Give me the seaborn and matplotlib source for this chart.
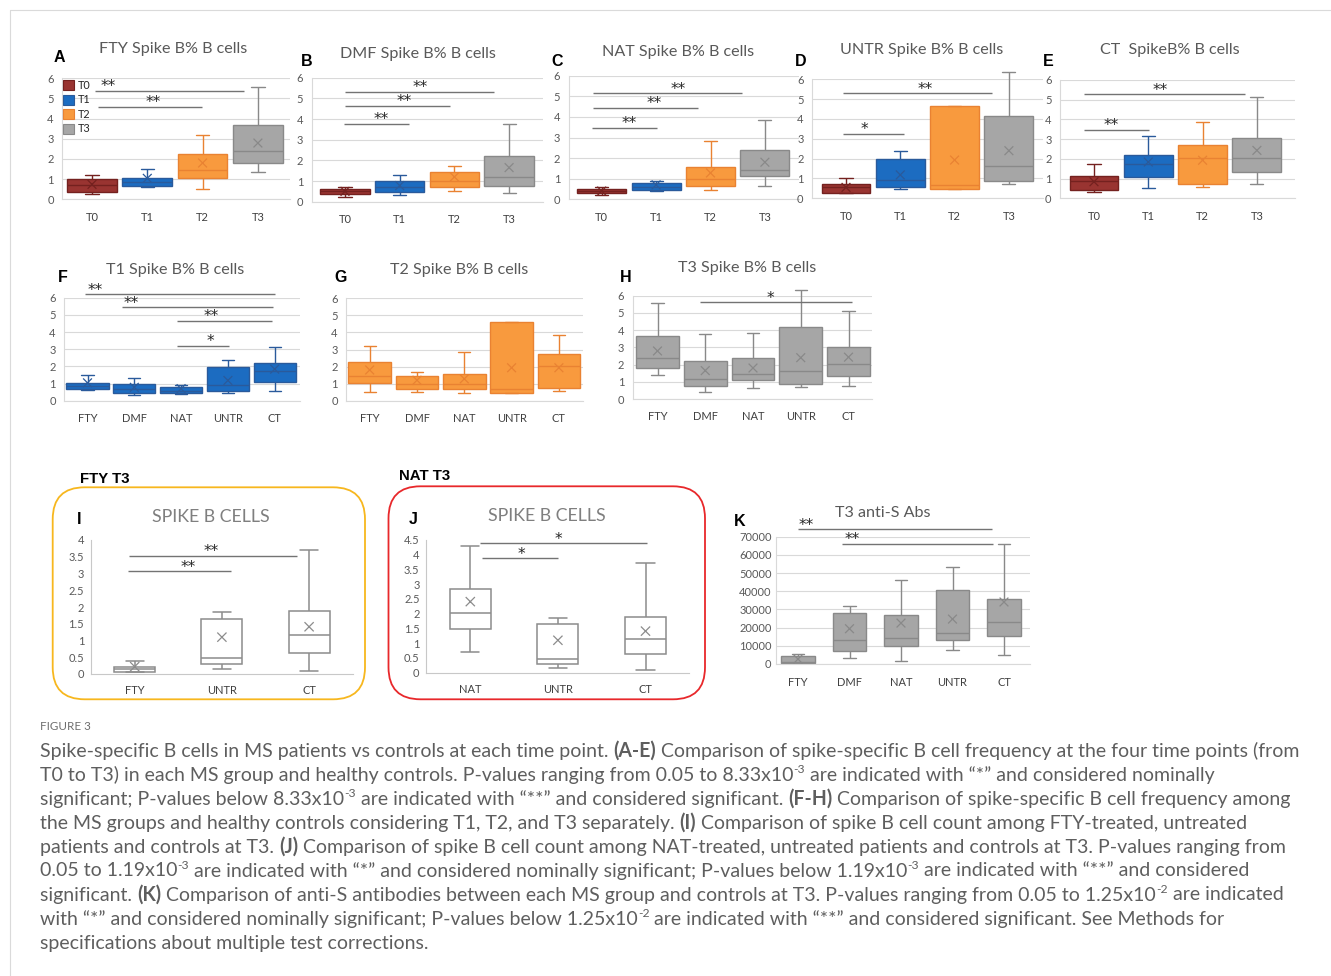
import numpy as np
import pandas as pd
import matplotlib
matplotlib.use("Agg")
import matplotlib.pyplot as plt
from matplotlib.patches import FancyBboxPatch, Patch
from matplotlib.font_manager import FontProperties
import seaborn as sns

# ---------------------------------------------------------------- data
TIMEPOINTS = ["T0", "T1", "T2", "T3"]
GROUPS = ["FTY", "DMF", "NAT", "UNTR", "CT"]

# Spike-specific B cells (% of B cells) per time point T0..T3
FTY_LO = [0.26, 0.61, 0.51, 1.37]
FTY_Q1 = [0.36, 0.68, 1.04, 1.79]
FTY_MED = [0.69, 0.88, 1.43, 2.41]
FTY_Q3 = [1.00, 1.06, 2.27, 3.68]
FTY_HI = [1.19, 1.49, 3.19, 5.58]
FTY_MEAN = [0.74, 1.04, 1.80, 2.79]

DMF_LO = [0.21, 0.33, 0.50, 0.43]
DMF_Q1 = [0.35, 0.47, 0.70, 0.78]
DMF_MED = [0.50, 0.70, 0.98, 1.18]
DMF_Q3 = [0.63, 0.99, 1.45, 2.22]
DMF_HI = [0.71, 1.30, 1.71, 3.76]
DMF_MEAN = [0.50, 0.78, 1.20, 1.65]

NAT_LO = [0.23, 0.38, 0.43, 0.65]
NAT_Q1 = [0.29, 0.47, 0.66, 1.11]
NAT_MED = [0.38, 0.58, 0.99, 1.43]
NAT_Q3 = [0.49, 0.77, 1.56, 2.37]
NAT_HI = [0.61, 0.90, 2.84, 3.86]
NAT_MEAN = [0.40, 0.70, 1.28, 1.80]

UNTR_LO = [0.25, 0.47, 0.47, 0.70]
UNTR_Q1 = [0.27, 0.59, 0.48, 0.87]
UNTR_MED = [0.55, 0.91, 0.67, 1.65]
UNTR_Q3 = [0.74, 1.99, 4.63, 4.16]
UNTR_HI = [1.03, 2.37, 4.63, 6.35]
UNTR_MEAN = [0.55, 1.18, 1.93, 2.40]

CT_LO = [0.32, 0.54, 0.55, 0.74]
CT_Q1 = [0.44, 1.08, 0.72, 1.31]
CT_MED = [0.86, 1.72, 2.05, 2.02]
CT_Q3 = [1.11, 2.19, 2.72, 3.04]
CT_HI = [1.76, 3.15, 3.85, 5.13]
CT_MEAN = [0.84, 1.84, 1.93, 2.43]

# Spike B cell count at T3 (panels I and J)
COUNT_I_GROUPS = ["FTY", "UNTR", "CT"]
COUNT_J_GROUPS = ["NAT", "UNTR", "CT"]
CNT_FTY = [0.06, 0.07, 0.14, 0.22, 0.38]
CNT_NAT = [0.71, 1.48, 2.03, 2.83, 4.31]
CNT_UNTR = [0.15, 0.30, 0.48, 1.64, 1.84]
CNT_CT = [0.10, 0.63, 1.15, 1.89, 3.71]
CNT_MEAN = {"FTY": 0.22, "NAT": 2.41, "UNTR": 1.10, "CT": 1.41}

# Anti-S antibodies at T3 (panel K), groups in GROUPS order
ABS_LO = [300, 3300, 1600, 7700, 4800]
ABS_Q1 = [500, 7100, 9900, 13400, 15200]
ABS_MED = [900, 13400, 14100, 17200, 23300]
ABS_Q3 = [4200, 28200, 26700, 40500, 35500]
ABS_HI = [5400, 31700, 46300, 53500, 66100]
ABS_MEAN = [2700, 19400, 22500, 24700, 34100]

# Significance bars: (from, to, level, label, label position)
SIG_A = [(0.05, 2.75, 5.37, "**", 0.29), (0.11, 1.99, 4.60, "**", 1.11)]
SIG_B = [(0.0, 2.72, 5.32, "**", 1.37), (0.0, 1.92, 4.63, "**", 1.08),
         (-0.02, 1.17, 3.77, "**", 0.66)]
SIG_C = [(-0.16, 2.58, 5.15, "**", 1.40), (-0.16, 1.77, 4.43, "**", 0.96),
         (-0.18, 1.02, 3.48, "**", 0.50)]
SIG_D = [(-0.06, 2.68, 5.29, "**", 1.45), (-0.06, 1.07, 3.24, "*", 0.33)]
SIG_E = [(-0.18, 2.78, 5.27, "**", 1.22), (-0.18, 1.01, 3.46, "**", 0.31)]
SIG_F = [(-0.05, 4.01, 6.19, "**", 0.16), (0.74, 3.97, 5.44, "**", 0.94),
         (1.92, 3.95, 4.66, "**", 2.65), (1.92, 3.02, 3.20, "*", 2.62)]
SIG_H = [(0.89, 4.07, 5.61, "*", 2.36)]
SIG_I = [(-0.07, 1.86, 3.53, "**", 0.88), (-0.08, 1.11, 3.06, "**", 0.61)]
SIG_J = [(0.11, 2.02, 4.39, "*", 1.00), (0.13, 1.00, 3.88, "*", 0.58)]
SIG_K = [(0.0, 3.76, 74000, "**", 0.16), (0.85, 3.79, 65900, "**", 1.05)]

SPIKE = {
    "FTY": (FTY_LO, FTY_Q1, FTY_MED, FTY_Q3, FTY_HI, FTY_MEAN),
    "DMF": (DMF_LO, DMF_Q1, DMF_MED, DMF_Q3, DMF_HI, DMF_MEAN),
    "NAT": (NAT_LO, NAT_Q1, NAT_MED, NAT_Q3, NAT_HI, NAT_MEAN),
    "UNTR": (UNTR_LO, UNTR_Q1, UNTR_MED, UNTR_Q3, UNTR_HI, UNTR_MEAN),
    "CT": (CT_LO, CT_Q1, CT_MED, CT_Q3, CT_HI, CT_MEAN),
}
COUNTS = {"FTY": CNT_FTY, "NAT": CNT_NAT, "UNTR": CNT_UNTR, "CT": CNT_CT}

# ---------------------------------------------------------------- style
sns.set_style("white")
plt.rcParams["font.family"] = ["Lato", "DejaVu Sans"]

FACE_T = ["#993431", "#1C6CC1", "#F89A3E", "#A6A6A6"]
EDGE_T = ["#74211F", "#2A5A9B", "#E98232", "#898989"]
TICK_C = "#595959"
GRID_C = "#D9D9D9"

W, H = 1331, 976
fig = plt.figure(figsize=(W / 100, H / 100), dpi=100)
fig.patch.set_facecolor("white")

# pixel-space overlay for texts and frames
canvas = fig.add_axes([0, 0, 1, 1], zorder=0)
canvas.set_xlim(0, W)
canvas.set_ylim(H, 0)
canvas.axis("off")


def panel_axes(c0, s, n, padl, padr, yb, yt, ymax):
    left = c0 - (0.5 + padl) * s
    right = c0 + (n - 0.5 + padr) * s
    ax = fig.add_axes([left / W, 1 - yb / H, (right - left) / W, (yb - yt) / H], zorder=2)
    ax.patch.set_alpha(0)
    ax._lims = ((-0.5 - padl, n - 0.5 + padr), (0, ymax))
    return ax


def draw_boxes(ax, labels, stats, faces, edges, width, capw, lw=1.0, msize=40):
    lo, q1, med, q3, hi, mean = stats
    for i in range(len(labels)):
        frame = pd.DataFrame({"pos": [i] * 5,
                              "value": [lo[i], q1[i], med[i], q3[i], hi[i]]})
        sns.boxplot(data=frame, x="pos", y="value", native_scale=True, orient="x",
                    color=faces[i], linecolor=edges[i], saturation=1, width=width,
                    whis=(0, 100), showfliers=False, linewidth=lw, capwidths=capw,
                    ax=ax)
    ax.scatter(range(len(labels)), mean, marker="x", s=msize, c=edges,
               linewidths=0.9, zorder=6, clip_on=False)
    for art in list(ax.patches) + list(ax.lines):
        art.set_clip_on(False)
    ax.set_xticks(range(len(labels)), labels)


def finish(ax, yticks, fmt="{:g}", grid=True, xpad=9.0, ypad=6.0, fs=8):
    ax.set_xlim(*ax._lims[0])
    ax.set_ylim(*ax._lims[1])
    ax.set_yticks(yticks, [fmt.format(v) for v in yticks])
    ax.set_xlabel("")
    ax.set_ylabel("")
    ax.tick_params(axis="both", length=0, labelsize=fs)
    ax.tick_params(axis="y", pad=ypad, labelcolor=TICK_C)
    ax.tick_params(axis="x", pad=xpad, labelcolor="#404040")
    for sp in ("top", "right"):
        ax.spines[sp].set_visible(False)
    if grid:
        ax.yaxis.grid(True, color=GRID_C, lw=0.8)
        ax.xaxis.grid(False)
        ax.spines["left"].set_color(GRID_C)
        ax.spines["bottom"].set_color(GRID_C)
    else:
        ax.grid(False)
        ax.spines["left"].set_color("#C8C8C8")
        ax.spines["bottom"].set_color("#C8C8C8")
    for sp in ("left", "bottom"):
        ax.spines[sp].set_linewidth(0.8)
    ax.set_axisbelow(True)


def draw_sig(ax, specs):
    for x1, x2, y, label, lx in specs:
        ax.plot([x1, x2], [y, y], color="#737373", lw=1.0, clip_on=False,
                solid_capstyle="butt", zorder=7)
        ax.annotate(label, xy=(lx, y), xytext=(0, 3.0), textcoords="offset points",
                    ha="center", va="center", fontsize=11, color="#262626",
                    family="DejaVu Sans", annotation_clip=False, zorder=8)


def title(x, y, s, size=11.6, color="#595959"):
    canvas.text(x, y, s, ha="center", va="center", fontsize=size, color=color)


def letter(x, y, s, size=11.5):
    canvas.text(x, y, s, ha="center", va="center", fontsize=size, color="black",
                fontweight="bold", family=["Liberation Sans", "DejaVu Sans"])


# ---------------------------------------------------------------- A-E
top_panels = [
    ("A", "FTY", "FTY Spike B% B cells", (92, 55.3, 0.04, 0.08, 199.3, 78.3), (173, 49), (59, 58), SIG_A),
    ("B", "DMF", "DMF Spike B% B cells", (345, 54.7, 0.11, 0.12, 201.7, 77.7), (418, 54), (307, 62), SIG_B),
    ("C", "NAT", "NAT Spike B% B cells", (601.7, 54.4, 0.11, 0.12, 199.3, 75.7), (678, 52), (557, 62), SIG_C),
    ("D", "UNTR", "UNTR Spike B% B cells", (846, 54.3, 0.13, 0.12, 198.3, 79.3), (922, 50), (801, 62), SIG_D),
    ("E", "CT", "CT  SpikeB% B cells", (1094, 54.3, 0.13, 0.2, 198.3, 80), (1170, 50), (1048, 62), SIG_E),
]
for lab, grp, ttl, geo, tpos, lpos, sig in top_panels:
    c0, s, pl, pr, yb, yt = geo
    ax = panel_axes(c0, s, 4, pl, pr, yb, yt, 6)
    draw_boxes(ax, TIMEPOINTS, SPIKE[grp], FACE_T, EDGE_T, 0.9, 0.24)
    finish(ax, range(0, 7))
    draw_sig(ax, sig)
    title(*tpos, ttl)
    letter(*lpos, lab)
    if lab == "A":
        handles = [Patch(facecolor=f, edgecolor=e, lw=0.8) for f, e in zip(FACE_T, EDGE_T)]
        ax.legend(handles, TIMEPOINTS, loc="upper left",
                  bbox_to_anchor=(63 / W, 1 - 80 / H), bbox_transform=fig.transFigure,
                  frameon=False, fontsize=7.8, handlelength=1.05, handleheight=1.05,
                  handletextpad=0.3, labelspacing=0.32, borderpad=0, borderaxespad=0)

# ---------------------------------------------------------------- F-H
mid_panels = [
    ("F", 1, "T1 Spike B% B cells", (87.5, 46.8, 0.0, 0.04, 400.7, 297.7), (175, 270), (63, 278), SIG_F),
    ("G", 2, "T2 Spike B% B cells", (369.7, 47.3, 0.0, 0.02, 400.7, 298.3), (459, 270), (341, 278), []),
    ("H", 3, "T3 Spike B% B cells", (657.5, 47.75, 0.02, 0.0, 399, 295.7), (747, 268), (626, 278), SIG_H),
]
for lab, t, ttl, geo, tpos, lpos, sig in mid_panels:
    c0, s, pl, pr, yb, yt = geo
    ax = panel_axes(c0, s, 5, pl, pr, yb, yt, 6)
    stats = tuple([SPIKE[g][k][t] for g in GROUPS] for k in range(6))
    draw_boxes(ax, GROUPS, stats, [FACE_T[t]] * 5, [EDGE_T[t]] * 5, 0.9, 0.26)
    finish(ax, range(0, 7))
    draw_sig(ax, sig)
    title(*tpos, ttl)
    letter(*lpos, lab)

# ---------------------------------------------------------------- I, J
count_panels = [
    ("I", COUNT_I_GROUPS, (134.7, 87.2, 674, 540), 4.0, (211, 517), (79, 519), SIG_I,
     "FTY T3", (105, 479), (52.7, 487.3, 312.3, 212), "#F7B71E"),
    ("J", COUNT_J_GROUPS, (470.3, 87.6, 672.7, 540), 4.5, (547, 516), (413, 520), SIG_J,
     "NAT T3", (425, 476), (388.5, 486.3, 316.5, 213), "#E8282B"),
]
for lab, grps, geo, ymax, tpos, lpos, sig, head, hpos, frame, fcol in count_panels:
    c0, s, yb, yt = geo
    ax = panel_axes(c0, s, 3, 0.0, 0.0, yb, yt, ymax)
    lo, q1, med, q3, hi = (list(v) for v in zip(*[COUNTS[g] for g in grps]))
    stats = (lo, q1, med, q3, hi, [CNT_MEAN[g] for g in grps])
    draw_boxes(ax, grps, stats, ["white"] * 3, ["#8C8C8C"] * 3, 0.47, 0.21, lw=1.1, msize=44)
    finish(ax, np.arange(0, ymax + 0.01, 0.5), grid=False, xpad=8, ypad=5)
    draw_sig(ax, sig)
    title(tpos[0], tpos[1], "SPIKE B CELLS", size=12.8, color="#7F7F7F")
    letter(*lpos, lab)
    canvas.text(hpos[0], hpos[1], head, ha="center", va="center", fontsize=10.8,
                fontweight="bold", color="black", family=["Liberation Sans", "DejaVu Sans"])
    fx, fy, fw, fh = frame
    canvas.add_patch(FancyBboxPatch((fx, fy), fw, fh,
                                    boxstyle="round,pad=0,rounding_size=32",
                                    fc="none", ec=fcol, lw=1.3))

# ---------------------------------------------------------------- K
ax = panel_axes(798, 51.5, 5, -0.08, 0.0, 664, 536.7, 70000)
draw_boxes(ax, GROUPS, (ABS_LO, ABS_Q1, ABS_MED, ABS_Q3, ABS_HI, ABS_MEAN),
           [FACE_T[3]] * 5, [EDGE_T[3]] * 5, 0.66, 0.24)
finish(ax, range(0, 70001, 10000), ypad=3.5)
draw_sig(ax, SIG_K)
title(883, 513, "T3 anti-S Abs")
letter(740, 521, "K")

# ---------------------------------------------------------------- caption
CAPTION = [
    [("Spike-specific B cells in MS patients vs controls at each time point. ", "r"), ("(A-E)", "b"),
     (" Comparison of spike-specific B cell frequency at the four time points (from", "r")],
    [("T0 to T3) in each MS group and healthy controls. P-values ranging from 0.05 to 8.33x10", "r"),
     ("-3", "s"), (" are indicated with \u201c*\u201d and considered nominally", "r")],
    [("significant; P-values below 8.33x10", "r"), ("-3", "s"),
     (" are indicated with \u201c**\u201d and considered significant. ", "r"), ("(F-H)", "b"),
     (" Comparison of spike-specific B cell frequency among", "r")],
    [("the MS groups and healthy controls considering T1, T2, and T3 separately. ", "r"), ("(I)", "b"),
     (" Comparison of spike B cell count among FTY-treated, untreated", "r")],
    [("patients and controls at T3. ", "r"), ("(J)", "b"),
     (" Comparison of spike B cell count among NAT-treated, untreated patients and controls at T3. P-values ranging from", "r")],
    [("0.05 to 1.19x10", "r"), ("-3", "s"),
     (" are indicated with \u201c*\u201d and considered nominally significant; P-values below 1.19x10", "r"),
     ("-3", "s"), (" are indicated with \u201c**\u201d and considered", "r")],
    [("significant. ", "r"), ("(K)", "b"),
     (" Comparison of anti-S antibodies between each MS group and controls at T3. P-values ranging from 0.05 to 1.25x10", "r"),
     ("-2", "s"), (" are indicated", "r")],
    [("with \u201c*\u201d and considered nominally significant; P-values below 1.25x10", "r"), ("-2", "s"),
     (" are indicated with \u201c**\u201d and considered significant. See Methods for", "r")],
    [("specifications about multiple test corrections.", "r")],
]
CAP_FAMILY = ["Lato", "DejaVu Sans"]
CAP_COLOR = "#5E5E5E"
renderer = fig.canvas.get_renderer()


def run_width(text, size, weight):
    prop = FontProperties(family=CAP_FAMILY, size=size, weight=weight)
    w1 = renderer.get_text_width_height_descent("|" + text + "|", prop, ismath=False)[0]
    w0 = renderer.get_text_width_height_descent("||", prop, ismath=False)[0]
    return w1 - w0


def run_style(kind, size):
    if kind == "b":
        return size, "bold", 0.0
    if kind == "s":
        return size * 0.62, "normal", size * 0.55
    return size, "normal", 0.0


def line_width(runs, size):
    total = 0.0
    for text, kind in runs:
        fs, wt, _ = run_style(kind, size)
        total += run_width(text, fs, wt)
    return total


base = 12.0
cap_size = base * 1256.0 / line_width(CAPTION[0], base)

canvas.text(40, 727, "FIGURE 3", ha="left", va="center", fontsize=8.4, color="#6E6E6E")
for i, runs in enumerate(CAPTION):
    x = 40.0
    y_base = 756.5 + 24.0 * i
    for text, kind in runs:
        fs, wt, rise = run_style(kind, cap_size)
        canvas.text(x, y_base - rise, text, ha="left", va="baseline", fontsize=fs,
                    fontweight=wt, color=CAP_COLOR, family=CAP_FAMILY)
        x += run_width(text, fs, wt)

# page frame lines
canvas.plot([10, W], [10, 10], color="#DADADA", lw=0.8)
canvas.plot([10, 10], [10, H], color="#DADADA", lw=0.8)

fig.savefig("out.png", dpi=100, facecolor="white")
